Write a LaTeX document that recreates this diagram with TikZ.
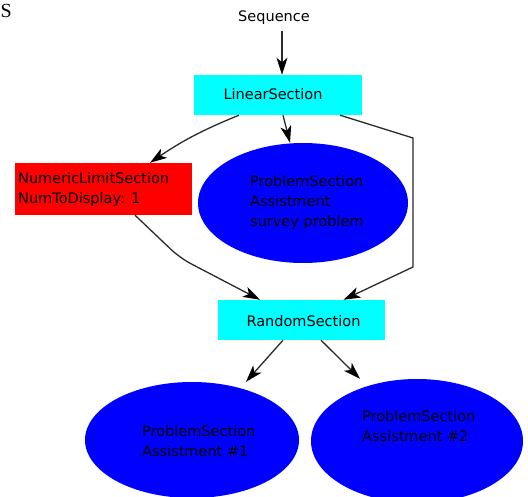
\documentclass[tikz,border=0pt]{standalone}
\usepackage{fontspec}
\usetikzlibrary{arrows.meta,shapes.geometric}
\newfontfamily\lblfont{DejaVu Sans}
\newfontfamily\headfont{Liberation Serif}
\definecolor{boxcyan}{HTML}{00FFFF}
\definecolor{boxred}{HTML}{FF0000}
\definecolor{blobblue}{HTML}{0000FF}
\definecolor{wire}{HTML}{2A2A2A}
\tikzset{
  lbl/.style={font=\lblfont\fontsize{14.5}{20}\selectfont, text=black, inner sep=0pt},
  secbox/.style={rectangle, draw=none, fill=boxcyan, inner sep=0pt},
  limbox/.style={rectangle, draw=none, fill=boxred, inner sep=0pt},
  probblob/.style={ellipse, draw=none, fill=blobblue, inner sep=0pt},
  edge/.style={draw=wire, line width=1.3pt, -{Stealth[length=17pt,width=11pt,inset=4.5pt,color=black,fill=black]}},
}
\begin{document}
\begin{tikzpicture}[x=1pt,y=-1pt]
  \useasboundingbox (0,0) rectangle (528,497);
  \clip (0,0) rectangle (528,497);

  \node[anchor=base west, font=\headfont\fontsize{20}{22}\selectfont, inner sep=0pt] (title) at (0.5,18) {S};

  % top of the tree
  \node[lbl, anchor=base] (seq) at (274,22) {Sequence};
  \node[secbox, minimum width=168pt, minimum height=40pt] (lin) at (278,95) {};
  \node[lbl] (lint) at (273,94) {LinearSection};

  % middle row
  \node[limbox, minimum width=177pt, minimum height=52pt] (num) at (103.5,189) {};
  \node[lbl, align=left, anchor=west] (numt) at (18,190) {NumericLimitSection\\NumToDisplay: 1};
  \node[probblob, minimum width=210pt, minimum height=120pt] (e1) at (303,203) {};
  \node[lbl, align=left, anchor=west] (e1t) at (250,203) {ProblemSection\\Assistment\\survey problem};

  % random section
  \node[secbox, minimum width=167pt, minimum height=40pt] (rnd) at (301.5,320) {};
  \node[lbl] (rndt) at (303.5,321) {RandomSection};

  % leaves
  \node[probblob, minimum width=214pt, minimum height=116pt] (e2) at (192,440) {};
  \node[lbl, align=left, anchor=west] (e2t) at (142,441) {ProblemSection\\Assistment \#1};
  \node[probblob, minimum width=212pt, minimum height=124pt] (e3) at (417,441) {};
  \node[lbl, align=left, anchor=west] (e3t) at (362,426) {ProblemSection\\Assistment \#2};

  % bend points of the routed connectors
  \coordinate (r1) at (413,138);
  \coordinate (r2) at (413,267);
  \coordinate (n1) at (180,258);

  % connectors
  \draw[edge] ([xshift=8pt,yshift=-6pt]seq.south) -- ([xshift=4pt]lin.north);
  \draw[edge] ([xshift=-39pt]lin.south) to[bend right=6] ([xshift=46.5pt]num.north);
  \draw[edge] ([xshift=5pt]lin.south) -- ([xshift=-13pt]e1.north);
  \draw[edge] ([xshift=62pt]lin.south) -- (r1) -- (r2) -- ([xshift=42pt]rnd.north);
  \draw[edge, rounded corners=12pt] ([xshift=31.5pt]num.south) -- (n1) -- ([xshift=-41.5pt]rnd.north);
  \draw[edge] ([xshift=-18.5pt]rnd.south) -- ([xshift=54pt]e2.north);
  \draw[edge] ([xshift=19.5pt]rnd.south) -- ([xshift=-57pt]e3.north);
\end{tikzpicture}
\end{document}
